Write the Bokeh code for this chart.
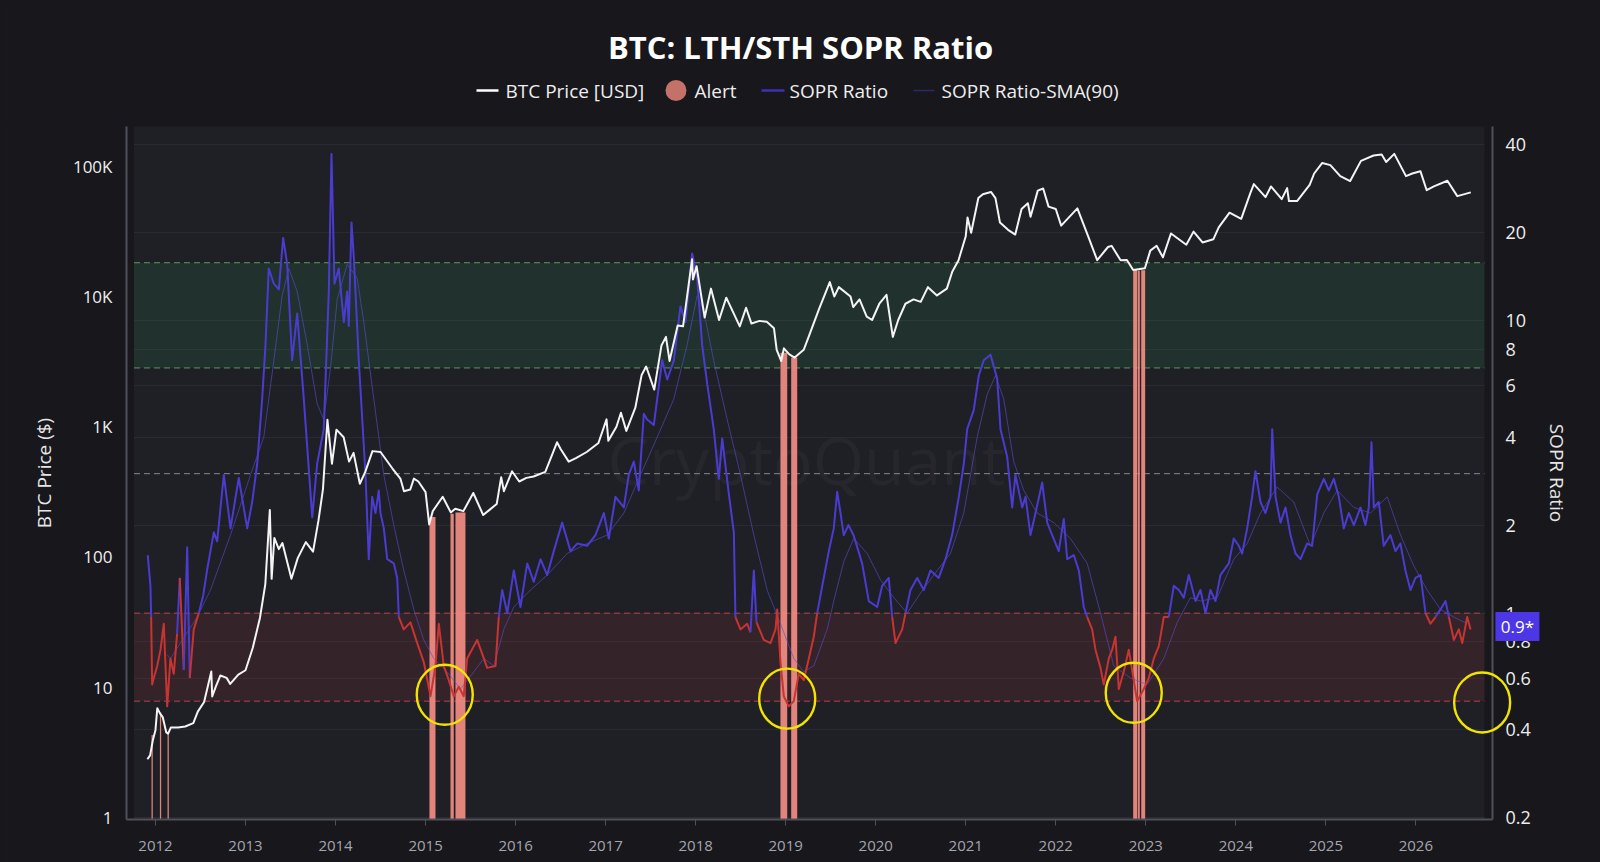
from bokeh.plotting import figure
from bokeh.models import (Range1d, LogScale, LogAxis, FixedTicker, CustomJSTickFormatter,
                          BoxAnnotation, Label, Grid, ColumnDataSource)
from bokeh.layouts import column
from bokeh.embed import file_html
from bokeh.resources import INLINE
from bokeh.core.properties import value

# ---------------- data ----------------
TITLE = "BTC: LTH/STH SOPR Ratio"
legend_labels = ["BTC Price [USD]", "Alert", "SOPR Ratio", "SOPR Ratio-SMA(90)"]

price_t = [2011.91, 2011.94, 2011.97, 2012.00, 2012.02, 2012.05, 2012.08, 2012.12, 2012.14, 2012.17,
           2012.25, 2012.33, 2012.42, 2012.47, 2012.54, 2012.62, 2012.63, 2012.67, 2012.72, 2012.79,
           2012.83, 2012.92, 2013.00, 2013.08, 2013.16, 2013.22, 2013.27, 2013.29, 2013.32, 2013.37,
           2013.41, 2013.51, 2013.58, 2013.67, 2013.75, 2013.81, 2013.86, 2013.91, 2013.96, 2014.01,
           2014.09, 2014.15, 2014.20, 2014.27, 2014.33, 2014.41, 2014.50, 2014.63, 2014.72, 2014.76,
           2014.83, 2014.87, 2014.92, 2015.00, 2015.04, 2015.08, 2015.19, 2015.28, 2015.33, 2015.42,
           2015.53, 2015.64, 2015.71, 2015.79, 2015.84, 2015.87, 2015.96, 2016.04, 2016.12, 2016.20,
           2016.33, 2016.46, 2016.50, 2016.59, 2016.67, 2016.79, 2016.92, 2017.01, 2017.03, 2017.12,
           2017.17, 2017.23, 2017.33, 2017.40, 2017.45, 2017.54, 2017.62, 2017.67, 2017.71, 2017.80,
           2017.86, 2017.96, 2017.97, 2018.01, 2018.10, 2018.17, 2018.26, 2018.34, 2018.49, 2018.56,
           2018.62, 2018.71, 2018.79, 2018.87, 2018.90, 2018.95, 2018.98, 2019.04, 2019.10, 2019.20,
           2019.26, 2019.37, 2019.49, 2019.54, 2019.59, 2019.72, 2019.75, 2019.82, 2019.90, 2019.96,
           2020.04, 2020.12, 2020.19, 2020.25, 2020.33, 2020.42, 2020.50, 2020.58, 2020.68, 2020.79,
           2020.85, 2020.92, 2021.00, 2021.02, 2021.06, 2021.14, 2021.19, 2021.28, 2021.33, 2021.38,
           2021.47, 2021.55, 2021.62, 2021.69, 2021.72, 2021.80, 2021.86, 2021.92, 2022.00, 2022.06,
           2022.24, 2022.36, 2022.46, 2022.58, 2022.62, 2022.72, 2022.79, 2022.86, 2022.99, 2023.05,
           2023.12, 2023.19, 2023.28, 2023.45, 2023.53, 2023.63, 2023.75, 2023.81, 2023.93, 2024.06,
           2024.16, 2024.20, 2024.33, 2024.39, 2024.51, 2024.57, 2024.59, 2024.68, 2024.82, 2024.87,
           2024.96, 2025.05, 2025.16, 2025.27, 2025.39, 2025.53, 2025.62, 2025.67, 2025.76, 2025.89,
           2025.96, 2026.05, 2026.12, 2026.20, 2026.35, 2026.46, 2026.61]
price_usd = [2.8, 3.0, 3.9, 4.7, 6.9, 6.3, 5.9, 4.5, 4.4, 4.9,
             4.9, 5.0, 5.3, 6.5, 7.7, 13.2, 8.5, 10.1, 12.3, 11.8,
             10.6, 12.5, 13.5, 20, 34, 62, 230, 68, 140, 115,
             128, 68, 98, 130, 110, 190, 330, 1130, 520, 950,
             830, 540, 630, 365, 450, 650, 640, 480, 400, 320,
             330, 400, 380, 315, 178, 225, 290, 220, 235, 225,
             310, 210, 230, 255, 410, 320, 455, 380, 405, 415,
             450, 760, 675, 540, 575, 640, 750, 1140, 780, 1000,
             1280, 930, 1400, 2500, 2900, 1930, 4200, 4900, 3200, 6000,
             5900, 19300, 13500, 17100, 6900, 11500, 6600, 9800, 5900, 8200,
             6200, 6500, 6400, 5700, 3900, 3200, 4000, 3600, 3400, 3900,
             5000, 8000, 12900, 10000, 11800, 10000, 8300, 9500, 7000, 6600,
             8800, 10300, 4900, 6600, 8800, 9500, 9100, 11800, 10200, 11500,
             15500, 19000, 29000, 40500, 30900, 57000, 61000, 63500, 57000, 37000,
             32500, 29900, 47000, 52000, 41000, 65000, 67500, 49000, 47000, 35000,
             47500, 29000, 19000, 24000, 24500, 19000, 19100, 16000, 16500, 22500,
             24500, 20000, 30500, 25000, 31500, 26000, 27500, 34000, 44000, 39500,
             62000, 73000, 58000, 70000, 56000, 68000, 54000, 54000, 72000, 88000,
             106000, 102000, 84000, 77000, 110000, 121000, 123000, 108000, 124500, 84000,
             88000, 91700, 65500, 70000, 77400, 59000, 63000]

sopr_t = [2011.914, 2011.944, 2011.952, 2011.963, 2011.981, 2012.019, 2012.056, 2012.092, 2012.130, 2012.166,
          2012.203, 2012.240, 2012.270, 2012.314, 2012.352, 2012.381, 2012.425, 2012.481, 2012.530, 2012.574,
          2012.648, 2012.685, 2012.759, 2012.833, 2012.925, 2013.019, 2013.074, 2013.130, 2013.185, 2013.222,
          2013.258, 2013.314, 2013.370, 2013.418, 2013.463, 2013.518, 2013.574, 2013.647, 2013.741, 2013.796,
          2013.869, 2013.925, 2013.955, 2013.988, 2014.036, 2014.092, 2014.129, 2014.147, 2014.177, 2014.203,
          2014.258, 2014.333, 2014.369, 2014.407, 2014.444, 2014.480, 2014.499, 2014.536, 2014.574, 2014.647,
          2014.685, 2014.703, 2014.758, 2014.832, 2014.907, 2014.980, 2015.055, 2015.110, 2015.147, 2015.202,
          2015.258, 2015.313, 2015.369, 2015.424, 2015.462, 2015.573, 2015.647, 2015.684, 2015.777, 2015.813,
          2015.851, 2015.907, 2015.980, 2016.054, 2016.129, 2016.202, 2016.277, 2016.351, 2016.424, 2016.517,
          2016.610, 2016.684, 2016.795, 2016.887, 2016.980, 2017.035, 2017.109, 2017.202, 2017.257, 2017.313,
          2017.368, 2017.424, 2017.461, 2017.535, 2017.628, 2017.684, 2017.757, 2017.831, 2017.887, 2017.961,
          2018.017, 2018.072, 2018.128, 2018.201, 2018.257, 2018.295, 2018.368, 2018.424, 2018.442, 2018.498,
          2018.572, 2018.609, 2018.646, 2018.676, 2018.757, 2018.831, 2018.887, 2018.906, 2018.942, 2018.979,
          2019.034, 2019.090, 2019.145, 2019.201, 2019.257, 2019.312, 2019.350, 2019.423, 2019.479, 2019.534,
          2019.572, 2019.609, 2019.645, 2019.697, 2019.753, 2019.808, 2019.849, 2019.923, 2020.016, 2020.072,
          2020.145, 2020.183, 2020.220, 2020.294, 2020.331, 2020.386, 2020.461, 2020.534, 2020.608, 2020.700,
          2020.775, 2020.849, 2020.923, 2020.979, 2021.016, 2021.089, 2021.145, 2021.200, 2021.275, 2021.349,
          2021.386, 2021.460, 2021.516, 2021.552, 2021.627, 2021.664, 2021.719, 2021.775, 2021.849, 2021.905,
          2021.960, 2022.033, 2022.089, 2022.127, 2022.200, 2022.256, 2022.311, 2022.349, 2022.404, 2022.441,
          2022.497, 2022.533, 2022.589, 2022.627, 2022.663, 2022.700, 2022.755, 2022.811, 2022.866, 2022.904,
          2022.977, 2023.033, 2023.089, 2023.144, 2023.200, 2023.255, 2023.311, 2023.367, 2023.422, 2023.478,
          2023.552, 2023.607, 2023.663, 2023.718, 2023.774, 2023.829, 2023.922, 2023.977, 2024.033, 2024.070,
          2024.126, 2024.181, 2024.218, 2024.274, 2024.329, 2024.385, 2024.404, 2024.441, 2024.496, 2024.552,
          2024.607, 2024.663, 2024.718, 2024.792, 2024.848, 2024.904, 2024.977, 2025.033, 2025.088, 2025.144,
          2025.199, 2025.255, 2025.311, 2025.385, 2025.440, 2025.477, 2025.507, 2025.533, 2025.588, 2025.643,
          2025.717, 2025.773, 2025.828, 2025.884, 2025.940, 2025.995, 2026.051, 2026.107, 2026.162, 2026.218,
          2026.273, 2026.329, 2026.366, 2026.422, 2026.477, 2026.515, 2026.570, 2026.607]
sopr_ratio = [1.58, 1.24, 0.97, 0.57, 0.60, 0.66, 0.75, 0.92, 0.48, 0.70,
              0.62, 0.85, 1.32, 0.64, 1.68, 0.60, 0.88, 1.00, 1.15, 1.41,
              1.89, 1.76, 2.97, 1.95, 2.90, 1.95, 2.40, 3.25, 5.42, 8.27,
              15.1, 13.4, 12.8, 19.2, 15.6, 7.33, 10.6, 5.42, 2.13, 3.25,
              4.26, 12.6, 37.2, 13.4, 15.1, 9.9, 12.6, 9.6, 21.7, 16.5,
              7.33, 2.97, 1.53, 2.50, 2.20, 2.63, 2.20, 1.95, 1.53, 1.48,
              1.32, 0.97, 0.88, 0.93, 0.79, 0.68, 0.52, 0.66, 0.92, 0.66,
              0.59, 0.52, 0.56, 0.52, 0.70, 0.81, 0.70, 0.65, 0.66, 0.97,
              1.20, 1.00, 1.40, 1.05, 1.48, 1.28, 1.53, 1.35, 1.63, 2.04,
              1.63, 1.73, 1.70, 1.85, 2.20, 1.80, 2.50, 2.30, 2.97, 3.30,
              2.63, 4.81, 4.60, 4.40, 7.33, 6.30, 7.30, 11.2, 9.9, 17.0,
              14.0, 8.27, 6.10, 4.26, 2.88, 3.96, 2.57, 1.89, 0.97, 0.88,
              0.92, 0.86, 1.40, 0.93, 0.81, 0.79, 0.88, 1.03, 0.68, 0.52,
              0.48, 0.50, 0.62, 0.59, 0.70, 0.83, 1.00, 1.32, 1.63, 1.95,
              2.60, 2.20, 1.85, 2.00, 1.85, 1.63, 1.48, 1.10, 1.05, 1.24,
              1.32, 0.97, 0.79, 0.88, 1.00, 1.20, 1.32, 1.20, 1.40, 1.32,
              1.53, 1.85, 2.50, 3.25, 4.26, 4.95, 6.50, 7.33, 7.66, 6.35,
              4.26, 3.43, 2.30, 2.97, 2.30, 2.50, 1.85, 2.20, 2.80, 2.04,
              1.85, 1.63, 2.10, 1.53, 1.58, 1.40, 1.05, 0.97, 0.88, 0.75,
              0.65, 0.57, 0.70, 0.75, 0.83, 0.55, 0.63, 0.75, 0.59, 0.50,
              0.55, 0.60, 0.70, 0.77, 0.97, 0.97, 1.24, 1.20, 1.13, 1.35,
              1.10, 1.20, 1.00, 1.20, 1.10, 1.35, 1.48, 1.80, 1.70, 1.60,
              1.95, 2.50, 3.06, 2.40, 2.20, 2.50, 4.26, 2.50, 2.04, 2.30,
              1.85, 1.60, 1.53, 1.73, 1.70, 2.55, 2.88, 2.63, 2.88, 2.50,
              1.95, 2.20, 2.00, 2.30, 2.00, 2.30, 3.84, 2.30, 2.40, 1.70,
              1.85, 1.63, 1.73, 1.40, 1.20, 1.32, 1.35, 1.00, 0.92, 0.97,
              1.03, 1.10, 0.97, 0.81, 0.88, 0.79, 0.97, 0.88]

sma_t = [2012.130, 2012.167, 2012.463, 2012.611, 2012.833, 2013.055, 2013.203, 2013.314, 2013.407, 2013.481,
         2013.574, 2013.685, 2013.796, 2013.869, 2013.944, 2014.018, 2014.129, 2014.240, 2014.314, 2014.425,
         2014.536, 2014.647, 2014.758, 2014.869, 2014.980, 2015.091, 2015.240, 2015.388, 2015.536, 2015.647,
         2015.758, 2015.869, 2015.980, 2016.165, 2016.351, 2016.573, 2016.795, 2017.017, 2017.202, 2017.387,
         2017.573, 2017.757, 2017.906, 2018.017, 2018.090, 2018.201, 2018.350, 2018.498, 2018.646, 2018.794,
         2018.942, 2019.090, 2019.201, 2019.312, 2019.461, 2019.534, 2019.645, 2019.756, 2019.905, 2020.053,
         2020.201, 2020.349, 2020.497, 2020.683, 2020.830, 2020.978, 2021.127, 2021.238, 2021.330, 2021.422,
         2021.533, 2021.645, 2021.793, 2021.978, 2022.163, 2022.349, 2022.497, 2022.644, 2022.830, 2023.015,
         2023.200, 2023.349, 2023.496, 2023.607, 2023.793, 2023.977, 2024.126, 2024.274, 2024.459, 2024.643,
         2024.829, 2024.977, 2025.126, 2025.310, 2025.496, 2025.681, 2025.829, 2025.977, 2026.125, 2026.273,
         2026.421, 2026.570]
sma_ratio = [0.72, 0.70, 0.97, 1.20, 1.85, 2.97, 4.00, 7.30, 12.2, 15.1,
             12.6, 8.30, 5.20, 4.60, 6.90, 11.8, 15.6, 14.0, 9.90, 5.40,
             2.97, 2.00, 1.40, 1.03, 0.81, 0.70, 0.63, 0.55, 0.63, 0.70,
             0.66, 0.88, 1.05, 1.20, 1.35, 1.60, 1.73, 1.85, 2.20, 2.97,
             4.00, 5.40, 8.30, 12.2, 10.8, 7.30, 4.60, 2.97, 1.85, 1.20,
             0.92, 0.70, 0.63, 0.66, 0.88, 1.10, 1.50, 1.80, 1.60, 1.30,
             1.13, 1.00, 1.17, 1.40, 1.60, 2.20, 4.00, 5.60, 6.50, 5.40,
             3.30, 2.63, 2.20, 2.04, 1.80, 1.48, 1.00, 0.66, 0.60, 0.57,
             0.70, 0.93, 1.13, 1.10, 1.13, 1.53, 1.73, 2.20, 2.70, 2.40,
             1.70, 2.20, 2.63, 2.30, 2.20, 2.50, 1.85, 1.45, 1.20, 1.03,
             0.97, 0.92]

alert_start = [2011.956, 2012.049, 2012.134, 2015.043, 2015.277, 2015.332, 2018.942, 2019.061,
               2022.860, 2022.911, 2022.949]
alert_end = [2011.970, 2012.063, 2012.148, 2015.110, 2015.313, 2015.443, 2019.017, 2019.128,
             2022.904, 2022.933, 2022.993]
alert_price = [4.3, 6.4, 4.5, 203, 215, 220, 3700, 3400, 16000, 15800, 15900]

circle_t = [2015.213, 2019.017, 2022.866, 2026.736]
circle_ratio = [0.526, 0.51, 0.534, 0.495]

green_zone = [6.9, 15.8]
red_zone = [0.5, 1.0]
mid_level = 3.0
alert_threshold = 1.0
latest_value = 0.9
latest_text = "0.9*"

year_ticks = list(range(2012, 2027))
year_labels = [str(y) for y in year_ticks]
price_ticks = [1, 10, 100, 1000, 10000, 100000]
price_tick_labels = ["1", "10", "100", "1K", "10K", "100K"]
sopr_ticks = [0.2, 0.4, 0.6, 0.8, 1, 2, 4, 6, 8, 10, 20, 40]
sopr_tick_labels = ["0.2", "0.4", "0.6", "0.8", "1", "2", "4", "6", "8", "10", "20", "40"]

# ---------------- layout & style ----------------
W = 1600
HEAD_H = 126
MAIN_H = 736
FRAME_L, FRAME_R = 126, 1492          # page pixels of the plotting frame
X_LO, X_HI = 2011.678, 2026.851
BG_LO, BG_HI = 2011.761, 2026.762
PRICE_LO, PRICE_HI = 0.965, 202000
SOPR_LO, SOPR_HI = 0.1969, 46.2
WATERMARK_X, WATERMARK_Y = 2019.23, 3.38
BADGE_X = 2027.128
BADGE_W, BADGE_H = 44, 29

FONT = "Open Sans"
PAGE_BG = "#17171c"
PLOT_BG = "#1f1f26"
GRID_C = "#2a2a32"
AXIS_C = "#50505a"
WHITE = "#f4f4f4"
BLUE = "#4b3cd0"
RED = "#c63532"
SMA_C = "#5a4fd0"
ALERT_C = "#ee8a81"
YELLOW = "#f0e400"
BADGE_C = "#4c36e6"

fmt_code = """
let best = ''; let bd = Infinity;
for (let i = 0; i < vals.length; i++) {
  const d = Math.abs(vals[i] - tick) / Math.abs(vals[i]);
  if (d < bd) { bd = d; best = labs[i]; }
}
return bd < 1e-6 ? best : '';
"""

# ---------------- main chart ----------------
p = figure(width=W, height=MAIN_H, x_range=Range1d(X_LO, X_HI),
           y_range=Range1d(PRICE_LO, PRICE_HI), y_axis_type="log",
           output_backend="svg", toolbar_location=None,
           min_border_left=FRAME_L, min_border_right=W - FRAME_R, min_border_top=0, min_border_bottom=43,
           background_fill_color=PLOT_BG, border_fill_color=PAGE_BG, outline_line_color=None)
p.extra_y_ranges = {"sopr": Range1d(SOPR_LO, SOPR_HI)}
p.extra_y_scales = {"sopr": LogScale()}
p.xgrid.visible = False
p.ygrid.visible = False

xa = p.xaxis[0]
xa.ticker = FixedTicker(ticks=year_ticks, minor_ticks=[])
xa.formatter = CustomJSTickFormatter(args=dict(vals=year_ticks, labs=year_labels), code=fmt_code)
xa.major_tick_out = 6
xa.major_tick_in = 0
xa.major_tick_line_color = AXIS_C
xa.major_label_standoff = 15
xa.major_label_text_color = "#a6a6ae"
xa.major_label_text_font_size = "15px"

ya = p.yaxis[0]
ya.ticker = FixedTicker(ticks=price_ticks, minor_ticks=[])
ya.formatter = CustomJSTickFormatter(args=dict(vals=price_ticks, labs=price_tick_labels), code=fmt_code)
ya.major_tick_out = 0
ya.major_tick_in = 0
ya.major_label_standoff = 14
ya.major_label_text_color = "#eeeeee"
ya.major_label_text_font_size = "17px"
ya.axis_label = "BTC Price ($)"
ya.axis_label_standoff = 13

ra = LogAxis(y_range_name="sopr",
             ticker=FixedTicker(ticks=sopr_ticks, minor_ticks=[]),
             formatter=CustomJSTickFormatter(args=dict(vals=sopr_ticks, labs=sopr_tick_labels), code=fmt_code))
ra.major_tick_out = 0
ra.major_tick_in = 0
ra.major_label_standoff = 13
ra.major_label_text_color = "#eeeeee"
ra.major_label_text_font_size = "18px"
ra.axis_label = "SOPR Ratio"
ra.axis_label_standoff = 10
p.add_layout(ra, "right")

for ax in (xa, ya, ra):
    ax.axis_line_color = AXIS_C
    ax.axis_line_width = 2
    ax.minor_tick_line_color = None
    ax.major_label_text_font = FONT
    ax.axis_label_text_font = FONT
    ax.axis_label_text_font_style = "normal"
    ax.axis_label_text_font_size = "19px"
    ax.axis_label_text_color = "#e6e6e6"

grid = Grid(dimension=1, ticker=ra.ticker, y_range_name="sopr",
            grid_line_color=GRID_C, grid_line_width=1)
p.add_layout(grid)

# dark margins left/right of the plotting panel
p.add_layout(BoxAnnotation(right=BG_LO, fill_color=PAGE_BG, fill_alpha=1, line_alpha=0, level="underlay"))
p.add_layout(BoxAnnotation(left=BG_HI, fill_color=PAGE_BG, fill_alpha=1, line_alpha=0, level="underlay"))

# zones
p.add_layout(BoxAnnotation(left=BG_LO, right=BG_HI, bottom=green_zone[0], top=green_zone[1],
                           y_range_name="sopr", fill_color="#2e9a55", fill_alpha=0.15,
                           line_alpha=0, level="underlay"))
p.add_layout(BoxAnnotation(left=BG_LO, right=BG_HI, bottom=red_zone[0], top=red_zone[1],
                           y_range_name="sopr", fill_color="#b03a3a", fill_alpha=0.15,
                           line_alpha=0, level="underlay"))

wm = Label(x=WATERMARK_X, y=WATERMARK_Y, y_range_name="sopr", text="CryptoQuant",
           text_font=FONT, text_font_size="66px", text_color="#ffffff", text_alpha=0.03,
           text_align="center", text_baseline="middle", level="underlay")
p.add_layout(wm)

levels_src = ColumnDataSource(dict(
    y=[green_zone[1], green_zone[0], mid_level, red_zone[1], red_zone[0]],
    c=["#5b995c", "#5b995c", "#85858f", "#b3424a", "#b3424a"]))
p.segment(x0=BG_LO, x1=BG_HI, y0="y", y1="y", source=levels_src, y_range_name="sopr",
          line_color="c", line_dash="6 4", line_width=1)

# alert bars
p.quad(left=alert_start, right=alert_end, top=alert_price, bottom=PRICE_LO * 0.5,
       fill_color=ALERT_C, fill_alpha=0.95, line_alpha=0)

# SMA
p.line(sma_t, sma_ratio, y_range_name="sopr", line_color=SMA_C, line_width=1, line_alpha=0.6)

# SOPR ratio coloured by alert threshold
xs, ys, cs = [], [], []
cur_x, cur_y, cur_c = [sopr_t[0]], [sopr_ratio[0]], None
for i in range(len(sopr_t) - 1):
    c = RED if (sopr_ratio[i] + sopr_ratio[i + 1]) / 2 < alert_threshold else BLUE
    if cur_c is None:
        cur_c = c
    if c != cur_c:
        xs.append(cur_x); ys.append(cur_y); cs.append(cur_c)
        cur_x, cur_y, cur_c = [sopr_t[i]], [sopr_ratio[i]], c
    cur_x.append(sopr_t[i + 1]); cur_y.append(sopr_ratio[i + 1])
xs.append(cur_x); ys.append(cur_y); cs.append(cur_c)
p.multi_line(xs=xs, ys=ys, line_color=cs, line_width=2, line_join="round", y_range_name="sopr")

# BTC price
p.line(price_t, price_usd, line_color=WHITE, line_width=2, line_join="round")

# highlight circles
p.ellipse(x=circle_t, y=circle_ratio, width=56, height=60, width_units="screen",
          height_units="screen", fill_alpha=0, line_color=YELLOW, line_width=2.4,
          y_range_name="sopr", level="overlay")

# latest-value badge on the right axis
p.rect(x=[BADGE_X], y=[latest_value], width=BADGE_W, height=BADGE_H, width_units="screen",
       height_units="screen", fill_color=BADGE_C, line_alpha=0, y_range_name="sopr", level="overlay")
p.text(x=[BADGE_X], y=[latest_value], text=[latest_text], text_font=value(FONT),
       text_font_size="17px", text_color="#ffffff", text_align="center", text_baseline="middle",
       y_range_name="sopr", level="overlay")

# ---------------- header: title + legend (x = page pixels, y = page pixels downward) ----------------
h = figure(width=W, height=HEAD_H, x_range=Range1d(FRAME_L, FRAME_R), y_range=Range1d(HEAD_H, 0),
           x_axis_type=None, y_axis_type=None, toolbar_location=None, output_backend="svg",
           min_border_left=FRAME_L, min_border_right=W - FRAME_R, min_border_top=0, min_border_bottom=0,
           background_fill_color=PAGE_BG, border_fill_color=PAGE_BG, outline_line_color=None)
h.xgrid.visible = False
h.ygrid.visible = False
h.add_layout(Label(x=800, y=46, text=TITLE, text_font=FONT, text_font_size="31px",
                   text_font_style="bold", text_color="#ffffff",
                   text_align="center", text_baseline="middle"))

LEG_Y = 90
leg_lines = ColumnDataSource(dict(x0=[476, 761, 913], x1=[498, 784, 934], y=[LEG_Y] * 3,
                                  c=["#ffffff", "#3d30b8", "#2c2870"], w=[2.5, 2.5, 1.5]))
h.segment(x0="x0", x1="x1", y0="y", y1="y", line_color="c", line_width="w", source=leg_lines)
h.scatter(x=[675.5], y=[LEG_Y], size=21, fill_color="#c4716a", line_alpha=0)
h.text(x=[505, 694, 789, 941], y=[LEG_Y] * 4, text=legend_labels,
       text_font=value(FONT), text_font_size="19px", text_color="#eeeeee",
       text_baseline="middle", text_align="left")

layout = column(h, p, spacing=0)
PAGE_STYLE = "{% block postamble %}<style>html, body { background-color: #17171c; }</style>{% endblock %}"
open("out.html", "w").write(file_html(layout, INLINE, template=PAGE_STYLE))
